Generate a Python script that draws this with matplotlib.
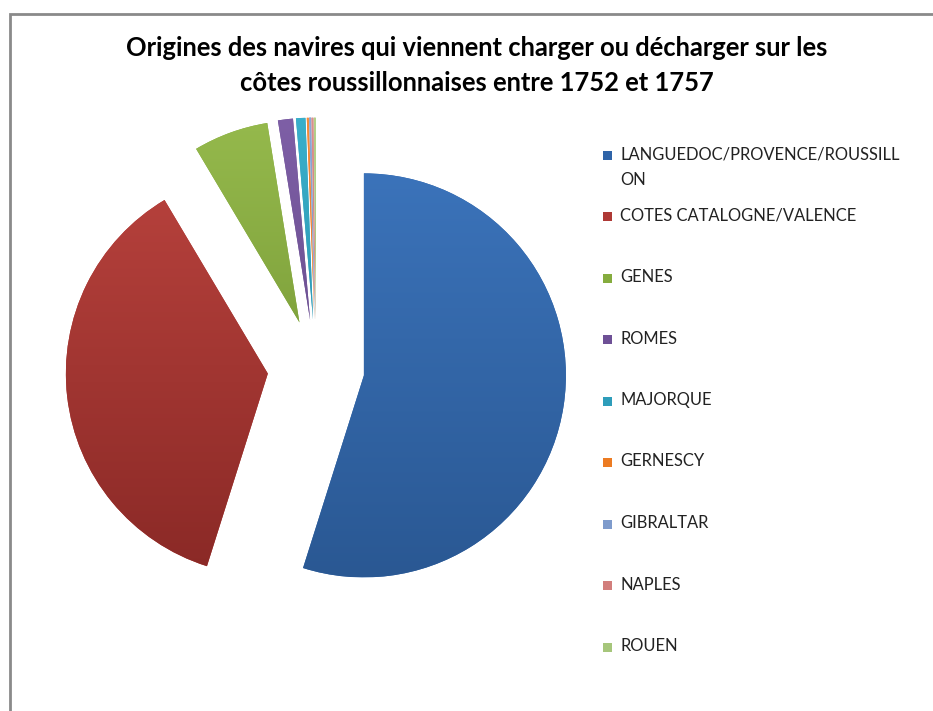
import numpy as np
import matplotlib
matplotlib.use("Agg")
import matplotlib.pyplot as plt
from matplotlib.patches import Rectangle
from matplotlib.colors import LinearSegmentedColormap

# origines des navires (nombre estimé depuis le graphique)
origines = ["LANGUEDOC/PROVENCE/ROUSSILL\nON", "COTES CATALOGNE/VALENCE", "GENES",
            "ROMES", "MAJORQUE", "GERNESCY", "GIBRALTAR", "NAPLES", "ROUEN"]
navires = [366, 244, 40, 8, 5, 1, 1, 1, 1]

# couleurs haut / bas du dégradé
couleurs_haut = ["#3B73BA", "#B8423D", "#95B94C", "#7E5FA6", "#3AAFCB", "#F68C3A",
                 "#8DA9D6", "#DC8F8D", "#B3D08A"]
couleurs_bas = ["#2A5893", "#8A2926", "#6D8F2F", "#5D4380", "#23869F", "#D8681A",
                "#6A86BA", "#C26866", "#92B466"]
couleurs_legende = ["#2F64A8", "#AE3935", "#85AC3E", "#6E5096", "#2E9DBA", "#EC7B22",
                    "#7E9BCC", "#D27E7C", "#A6C67B"]

W, H = 933, 711
fig = plt.figure(figsize=(W / 100, H / 100), dpi=100)
ax = fig.add_axes([0, 0, 1, 1])

# cadre du graphique
ax.add_patch(Rectangle((10, -20), W + 20, H - 13.5 + 20, fill=False,
                       edgecolor="#8A8A8A", linewidth=2))

rayon = 202
centre = (316, H - 368)
wedges, _ = ax.pie(navires, center=centre, radius=rayon, startangle=90,
                   counterclock=False, explode=[0.24 * rayon] * len(navires),
                   colors=couleurs_legende, wedgeprops=dict(linewidth=0),
                   frame=True)
ax.set_xlim(0, W)
ax.set_ylim(0, H)
ax.set_aspect("equal")
ax.axis("off")

# dégradé vertical dans chaque part
for w, ch, cb in zip(wedges, couleurs_haut, couleurs_bas):
    cmap = LinearSegmentedColormap.from_list("g", [cb, ch])
    cx, cy = w.center
    grad = np.linspace(0, 1, 256).reshape(-1, 1)
    im = ax.imshow(grad, cmap=cmap, origin="lower", aspect="auto",
                   extent=[cx - rayon, cx + rayon, cy - rayon, cy + rayon],
                   zorder=w.get_zorder() + 0.1)
    im.set_clip_path(w)

# titre
fig.text(477 / W, 1 - 48.5 / H,
         "Origines des navires qui viennent charger ou décharger sur les",
         ha="center", va="center", fontsize=18.4, fontweight="bold", family="Lato")
fig.text(477 / W, 1 - 83 / H, "côtes roussillonnaises entre 1752 et 1757",
         ha="center", va="center", fontsize=18.4, fontweight="bold", family="Lato")

# légende
for i, (lab, c) in enumerate(zip(origines, couleurs_legende)):
    y = H - (155 + i * 61.5)
    ax.add_patch(Rectangle((602.5, y - 4.5), 9, 9, facecolor=c, edgecolor="none"))
    ax.text(620, y + 9, lab, ha="left", va="top", fontsize=11.9, family="Lato",
            color="#222222", linespacing=1.75)

fig.savefig("out.png", dpi=100)
